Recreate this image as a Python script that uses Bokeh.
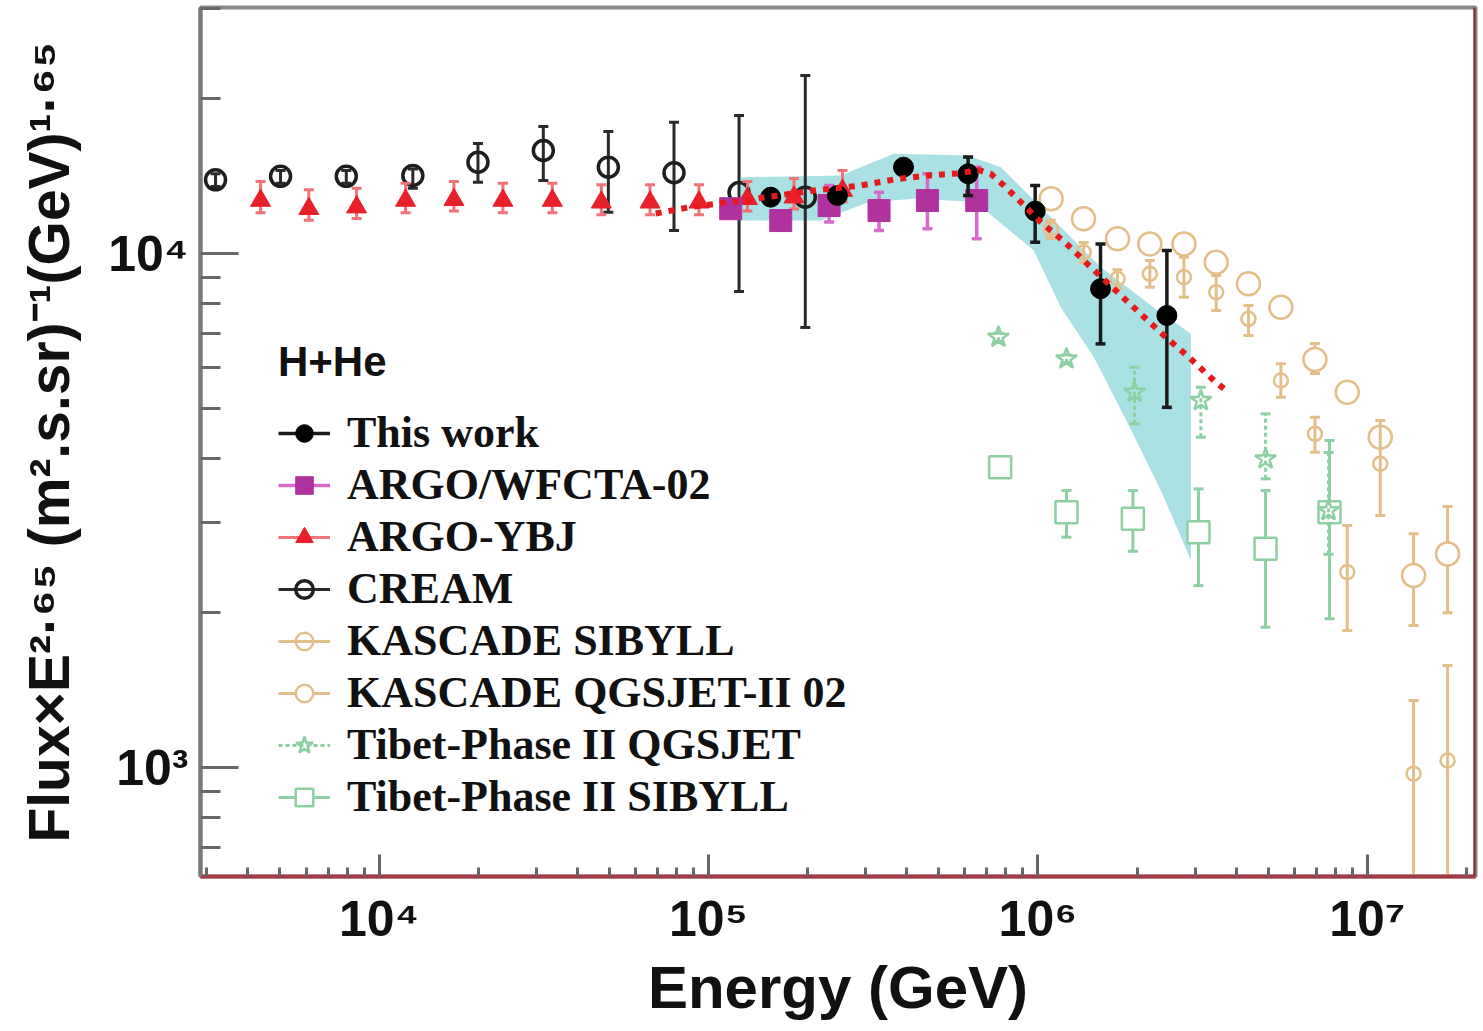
from bokeh.plotting import figure
from bokeh.models import (FixedTicker, CustomJSTickFormatter, Legend, LegendItem,
                          Span, ColumnDataSource, Range1d)
from bokeh.embed import file_html
from bokeh.resources import INLINE

# ---------------- data (energy in GeV, flux x E^2.65) ----------------
# This work
tw_E = [1.545e5, 2.463e5, 3.908e5, 6.138e5, 9.81e5, 1.549e6, 2.463e6]
tw_F = [1.287e4, 1.297e4, 1.472e4, 1.429e4, 1.209e4, 8.54e3, 7.575e3]
tw_lo = [1.25e4, 1.26e4, 1.43e4, 1.297e4, 1.052e4, 6.67e3, 5.02e3]
tw_hi = [1.32e4, 1.33e4, 1.51e4, 1.54e4, 1.356e4, 1.044e4, 1.013e4]

# systematic band of this work
band_up_E = [1.253e5, 2.52e5, 3.65e5, 6.13e5, 7.72e5, 1.094e6, 1.552e6, 2.313e6, 2.913e6]
band_up_F = [1.407e4, 1.418e4, 1.563e4, 1.551e4, 1.472e4, 1.177e4, 9.40e3, 7.75e3, 6.98e3]
band_lo_E = [1.253e5, 2.19e5, 3.04e5, 4.2e5, 6.13e5, 7.05e5, 9.72e5, 1.174e6, 1.479e6,
             1.875e6, 2.362e6, 2.913e6]
band_lo_F = [1.159e4, 1.159e4, 1.256e4, 1.278e4, 1.262e4, 1.202e4, 1.013e4, 7.85e3, 6.28e3,
             4.67e3, 3.46e3, 2.53e3]

# ARGO/WFCTA-02
wf_E = [1.168e5, 1.657e5, 2.323e5, 3.294e5, 4.62e5, 6.52e5]
wf_F = [1.222e4, 1.159e4, 1.240e4, 1.212e4, 1.268e4, 1.268e4]
wf_hi = [1.26e4, 1.20e4, 1.356e4, 1.316e4, 1.429e4, 1.472e4]
wf_lo = [1.18e4, 1.12e4, 1.151e4, 1.108e4, 1.117e4, 1.068e4]

# ARGO-YBJ
yb_E = [4367, 6120, 8545, 12034, 16874, 23763, 33573, 47286, 66439, 93562, 131300, 181800, 255200]
yb_F = [1.268e4, 1.222e4, 1.231e4, 1.268e4, 1.272e4, 1.268e4, 1.268e4, 1.258e4, 1.258e4,
        1.258e4, 1.278e4, 1.287e4, 1.326e4]
yb_hi = [1.38e4, 1.33e4, 1.34e4, 1.37e4, 1.38e4, 1.37e4, 1.37e4, 1.36e4, 1.36e4,
         1.36e4, 1.38e4, 1.40e4, 1.45e4]
yb_lo = [1.20e4, 1.16e4, 1.17e4, 1.20e4, 1.21e4, 1.20e4, 1.20e4, 1.19e4, 1.19e4,
         1.19e4, 1.21e4, 1.22e4, 1.26e4]

# ARGO-YBJ fit (dotted)
fit_E = [6.915e4, 8.709e4, 1.343e5, 2.087e5, 2.899e5, 3.651e5, 4.631e5, 5.833e5, 6.57e5,
         7.194e5, 7.881e5, 8.571e5, 1.0205e6, 1.2069e6, 1.4476e6, 1.7005e6, 2.0254e6,
         2.4125e6, 2.873e6, 3.422e6, 3.748e6]
fit_F = [1.196e4, 1.230e4, 1.274e4, 1.326e4, 1.356e4, 1.393e4, 1.418e4, 1.433e4, 1.455e4,
         1.429e4, 1.356e4, 1.287e4, 1.151e4, 1.052e4, 9.404e3, 8.537e3, 7.687e3,
         6.926e3, 6.284e3, 5.662e3, 5.397e3]

# CREAM
cr_E = [3188, 5022, 7951, 1.266e4, 1.996e4, 3.152e4, 4.966e4, 7.857e4, 1.238e5, 1.967e5]
cr_F = [1.391e4, 1.413e4, 1.413e4, 1.418e4, 1.505e4, 1.586e4, 1.472e4, 1.436e4, 1.314e4, 1.287e4]
cr_hi = [1.43e4, 1.45e4, 1.45e4, 1.46e4, 1.637e4, 1.767e4, 1.727e4, 1.801e4, 1.856e4, 2.22e4]
cr_lo = [1.35e4, 1.37e4, 1.37e4, 1.34e4, 1.376e4, 1.387e4, 1.203e4, 1.108e4, 8.435e3, 7.18e3]

# KASCADE QGSJET-II 02
kq_E = [1.0967e6, 1.3757e6, 1.7446e6, 2.1868e6, 2.7749e6, 3.4766e6, 4.357e6, 5.465e6,
        6.934e6, 8.69e6, 1.0945e7, 1.3815e7, 1.7521e7]
kq_F = [1.278e4, 1.168e4, 1.068e4, 1.044e4, 1.044e4, 9.618e3, 8.730e3, 7.860e3, 6.219e3,
        5.373e3, 4.393e3, 2.363e3, 2.604e3]
kq_hi = [1.30e4, 1.19e4, 1.09e4, 1.065e4, 1.065e4, 9.82e3, 8.93e3, 8.06e3, 6.68e3,
         5.50e3, 4.55e3, 2.849e3, 3.221e3]
kq_lo = [1.256e4, 1.148e4, 1.048e4, 1.024e4, 1.024e4, 9.42e3, 8.53e3, 7.66e3, 5.84e3,
         5.25e3, 4.24e3, 1.889e3, 2.0e3]

# KASCADE SIBYLL
ks_E = [1.0936e6, 1.377e6, 1.7446e6, 2.1868e6, 2.7749e6, 3.4766e6, 4.357e6, 5.465e6,
        6.934e6, 8.69e6, 1.0945e7, 1.3815e7, 1.7521e7]
ks_F = [1.117e4, 1.006e4, 8.929e3, 9.131e3, 8.993e3, 8.408e3, 7.464e3, 5.662e3, 4.459e3,
        2.399e3, 3.899e3, 973, 1032]
ks_hi = [1.16e4, 1.05e4, 9.3e3, 9.691e3, 9.835e3, 9.062e3, 7.923e3, 6.1e3, 4.803e3,
         2.957e3, 4.732e3, 1.35e3, 1.579e3]
ks_lo = [1.07e4, 9.6e3, 8.55e3, 8.6e3, 8.222e3, 7.745e3, 6.926e3, 5.253e3, 4.106e3,
         1.847e3, 3.093e3, 400, 400]

# Tibet-Phase II QGSJET
tq_E = [7.588e5, 1.2209e6, 1.965e6, 3.124e6, 4.909e6, 7.625e6]
tq_F = [6.873e3, 6.239e3, 5.373e3, 5.176e3, 3.987e3, 3.162e3]
tq_hi = [7.0e3, 6.35e3, 6.009e3, 5.494e3, 4.876e3, 4.1e3]
tq_lo = [6.75e3, 6.13e3, 4.663e3, 4.393e3, 3.644e3, 2.6e3]

# Tibet-Phase II SIBYLL
ts_E = [7.679e5, 1.2209e6, 1.942e6, 3.072e6, 4.909e6, 7.677e6]
ts_F = [3.838e3, 3.138e3, 3.047e3, 2.870e3, 2.664e3, 3.138e3]
ts_hi = [3.9e3, 3.458e3, 3.458e3, 3.484e3, 3.458e3, 4.328e3]
ts_lo = [3.78e3, 2.806e3, 2.635e3, 2.259e3, 1.875e3, 1.947e3]

x_major = [1e4, 1e5, 1e6, 1e7]
x_minor = [m * 10 ** k for k in range(3, 8) for m in range(2, 10)]
y_major = [1e3, 1e4]
y_minor = [m * 10 ** k for k in range(2, 5) for m in range(2, 10)]

X_START, X_END = 2870, 2.13e7
Y_START, Y_END = 613.8, 30100

# ---------------- figure ----------------
p = figure(width=1478, height=1023, x_axis_type="log", y_axis_type="log",
           x_range=Range1d(X_START, X_END), y_range=Range1d(Y_START, Y_END),
           output_backend="svg", toolbar_location=None,
           min_border_left=200, min_border_right=3, min_border_top=7, min_border_bottom=147)
p.background_fill_color = "white"
p.border_fill_color = "white"
p.outline_line_color = "#8a8a8a"
p.outline_line_width = 4
p.grid.visible = False

sup_code = """
const sup = {'0':'\u2070','1':'\u00b9','2':'\u00b2','3':'\u00b3','4':'\u2074','5':'\u2075',
             '6':'\u2076','7':'\u2077','8':'\u2078','9':'\u2079','-':'\u207b'};
const e = Math.round(Math.log10(tick));
return '10' + String(e).split('').map(c => sup[c]).join('');
"""

for ax, maj, mnr, tin, tmin in ((p.xaxis, x_major, x_minor, 22, 9), (p.yaxis, y_major, y_minor, 38, 20)):
    ax.ticker = FixedTicker(ticks=maj, minor_ticks=mnr)
    ax.formatter = CustomJSTickFormatter(code=sup_code)
    ax.major_tick_in = tin
    ax.major_tick_out = 0
    ax.minor_tick_in = tmin
    ax.minor_tick_out = 0
    ax.major_tick_line_color = "#666666"
    ax.minor_tick_line_color = "#666666"
    ax.major_tick_line_width = 3
    ax.minor_tick_line_width = 3
    ax.major_label_text_font = "Liberation Sans"
    ax.major_label_text_font_style = "bold"
    ax.major_label_text_font_size = "50px"
    ax.major_label_text_color = "#111111"
    ax.axis_label_text_font = "Liberation Sans"
    ax.axis_label_text_font_style = "bold"
    ax.axis_label_text_color = "#111111"

p.xaxis.axis_line_color = "#a33a46"
p.xaxis.axis_line_width = 4
p.yaxis.axis_line_color = "#7a7a7a"
p.yaxis.axis_line_width = 4
p.xaxis.major_label_standoff = 14
p.yaxis.major_label_standoff = 12
p.xaxis.axis_label = "Energy (GeV)"
p.xaxis.axis_label_text_font_size = "60px"
p.xaxis.axis_label_standoff = 4
p.yaxis.axis_label = "Flux\u00d7E\u00b2\u00b7\u2076\u2075 (m\u00b2.s.sr)\u207b\u00b9(GeV)\u00b9\u00b7\u2076\u2075"
p.yaxis.axis_label_text_font_size = "57px"
p.yaxis.axis_label_standoff = 24

p.add_layout(Span(location=X_END, dimension="height", line_color="#8b2030", line_width=4))

# ---------------- band ----------------
p.patch(band_up_E + band_lo_E[::-1], band_up_F + band_lo_F[::-1],
        fill_color="#aae1e4", line_color=None)


def series(E, F, lo, hi, marker, size, color, bar_color, fill, lw, bar_lw, dash="solid", cap=10):
    src = ColumnDataSource(dict(x=E, y=F, lo=lo, hi=hi))
    seg = p.segment(x0="x", y0="lo", x1="x", y1="hi", source=src,
                    line_color=bar_color, line_width=bar_lw, line_dash=dash)
    p.scatter(x="x", y="lo", source=src, marker="dash", size=cap,
              line_color=bar_color, line_width=bar_lw)
    p.scatter(x="x", y="hi", source=src, marker="dash", size=cap,
              line_color=bar_color, line_width=bar_lw)
    r = p.scatter(x="x", y="y", source=src, marker=marker, size=size,
                  fill_color=fill, line_color=color, line_width=lw)
    return seg, r


TAN = "#e3bf8a"
GREEN = "#8fcfa4"

tsr = series(ts_E, ts_F, ts_lo, ts_hi, "square", 22, GREEN, GREEN, "white", 2.5, 3)
tqr = series(tq_E, tq_F, tq_lo, tq_hi, "star", 22, GREEN, GREEN, None, 2.5, 3, dash="4 3")
kqr = series(kq_E, kq_F, kq_lo, kq_hi, "circle", 23, TAN, TAN, "white", 2.5, 3)
ksr = series(ks_E, ks_F, ks_lo, ks_hi, "circle", 14, TAN, TAN, None, 2.5, 3)
crr = series(cr_E, cr_F, cr_lo, cr_hi, "circle", 20, "#1e1e1e", "#2a2a2a", None, 3.5, 3)
ybr = series(yb_E, yb_F, yb_lo, yb_hi, "triangle", 20, "#e8202a", "#f0737a", "#e8202a", 1, 3)
wfr = series(wf_E, wf_F, wf_lo, wf_hi, "square", 22, "#b0329f", "#d56ccb", "#b0329f", 1, 3.5)
twr = series(tw_E, tw_F, tw_lo, tw_hi, "circle", 20, "black", "#1a1a1a", "black", 1, 3.5)

p.line(fit_E, fit_F, line_color="#e41a1c", line_width=6, line_dash="6 7")

items = [
    LegendItem(label="This work", renderers=list(twr)),
    LegendItem(label="ARGO/WFCTA-02", renderers=list(wfr)),
    LegendItem(label="ARGO-YBJ", renderers=list(ybr)),
    LegendItem(label="CREAM", renderers=list(crr)),
    LegendItem(label="KASCADE SIBYLL", renderers=list(ksr)),
    LegendItem(label="KASCADE QGSJET-II 02", renderers=list(kqr)),
    LegendItem(label="Tibet-Phase II QGSJET", renderers=list(tqr)),
    LegendItem(label="Tibet-Phase II SIBYLL", renderers=list(tsr)),
]
legend = Legend(items=items, location=(78, 54),
                title="H+He", title_text_font="Liberation Sans", title_text_font_style="bold",
                title_text_font_size="42px", title_text_color="#111111", title_standoff=21,
                label_text_font="Liberation Serif", label_text_font_style="bold",
                label_text_font_size="44px", label_text_color="#111111",
                glyph_width=52, glyph_height=44, label_height=44, spacing=1,
                label_standoff=17, padding=0, margin=0,
                border_line_color=None, background_fill_alpha=0)
p.add_layout(legend)

with open("out.html", "w", encoding="utf-8") as f:
    f.write(file_html(p, INLINE))
